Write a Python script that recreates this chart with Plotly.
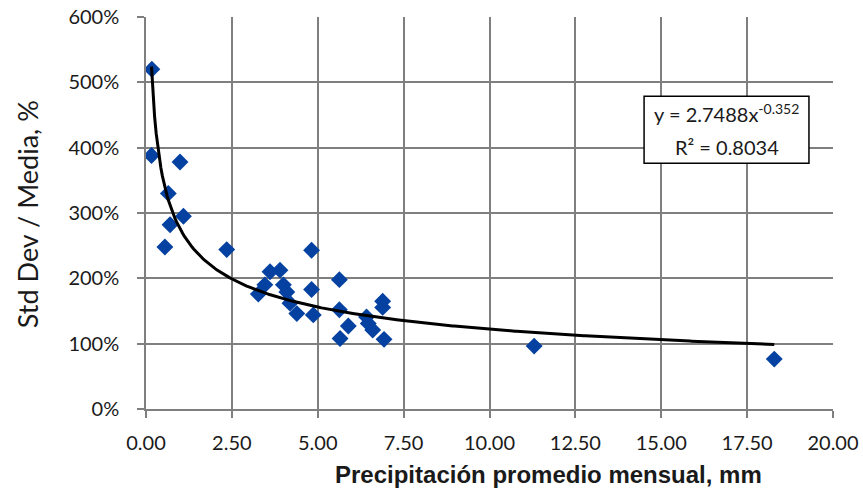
import numpy as np
import plotly.graph_objects as go

# Data
precip_mm = [0.17, 0.16, 0.99, 0.65, 1.09, 0.70, 0.55, 2.35,
             4.82, 3.61, 3.90, 3.46, 3.27, 4.00, 4.10, 4.19, 4.39,
             4.82, 4.87, 5.63, 5.63, 5.89, 5.65, 6.42, 6.47, 6.60,
             6.89, 6.89, 6.93, 11.30, 18.29]
cv_ratio = [5.20, 3.88, 3.78, 3.30, 2.95, 2.82, 2.48, 2.44,
            2.43, 2.10, 2.125, 1.90, 1.76, 1.90, 1.79, 1.62, 1.46,
            1.83, 1.44, 1.98, 1.52, 1.27, 1.08, 1.41, 1.31, 1.21,
            1.65, 1.555, 1.066, 0.963, 0.764]

# Power trendline shown on chart: y = a * x^b
trend_a = 2.7488
trend_b = -0.352
r_squared = 0.8034

x_ticks = [0, 2.5, 5, 7.5, 10, 12.5, 15, 17.5, 20]
y_ticks = [0, 1, 2, 3, 4, 5, 6]

xt = np.linspace(min(precip_mm), max(precip_mm), 400)
yt = trend_a * xt ** trend_b

fig = go.Figure()
fig.add_trace(go.Scatter(
    x=precip_mm, y=cv_ratio, mode="markers",
    marker=dict(symbol="diamond", size=13, color="#0541a0"),
    showlegend=False,
))
fig.add_trace(go.Scatter(
    x=xt, y=yt, mode="lines",
    line=dict(color="black", width=3),
    showlegend=False,
))

grid = "#7f7f7f"
txt = "#1a1a1a"
fig.update_layout(
    width=863, height=491,
    margin=dict(l=146, r=30, t=17, b=82),
    paper_bgcolor="white", plot_bgcolor="white",
    font=dict(family="Lato, Open Sans, sans-serif", size=20, color=txt),
)
fig.update_xaxes(
    range=[0, 20], tickvals=x_ticks, tickformat=".2f",
    showgrid=True, gridcolor=grid, gridwidth=1.5,
    showline=True, linecolor=grid, linewidth=1.5,
    ticks="outside", ticklen=7, tickcolor=grid, tickwidth=1.5,
    ticklabelstandoff=8,
    zeroline=False, automargin=False,
)
fig.update_yaxes(
    range=[0, 6], tickvals=y_ticks, tickformat=".0%",
    showgrid=True, gridcolor=grid, gridwidth=1.5,
    showline=True, linecolor=grid, linewidth=1.5,
    ticks="outside", ticklen=7, tickcolor=grid, tickwidth=1.5,
    ticklabelstandoff=14,
    zeroline=False, automargin=False,
)

# Axis titles
fig.add_annotation(xref="paper", yref="paper", x=0.5866, y=-0.168,
                   text="<b>Precipitación promedio mensual, mm</b>", showarrow=False,
                   xanchor="center", yanchor="middle",
                   font=dict(family="Liberation Sans, Arial, sans-serif", size=24, color=txt))
fig.add_annotation(xref="paper", yref="paper", x=-0.1732, y=0.497,
                   text="Std Dev / Media, %", showarrow=False, textangle=-90,
                   xanchor="center", yanchor="middle",
                   font=dict(size=27, color=txt))

# Equation box
fig.add_shape(type="rect", xref="x", yref="y",
              x0=14.5, x1=19.3, y0=3.761, y1=4.786,
              line=dict(color="black", width=1.5), fillcolor="white", layer="above")
fig.add_annotation(xref="x", yref="y", x=16.9, y=4.526,
                   text=f"y = {trend_a}x<sup>{trend_b}</sup>", showarrow=False,
                   font=dict(size=20, color=txt))
fig.add_annotation(xref="x", yref="y", x=16.9, y=4.006,
                   text=f"R² = {r_squared}", showarrow=False,
                   font=dict(size=20, color=txt))

fig.write_html("out.html",
               config={"displayModeBar": False},
               post_script="document.body.style.margin='0';document.body.style.overflow='hidden';")
